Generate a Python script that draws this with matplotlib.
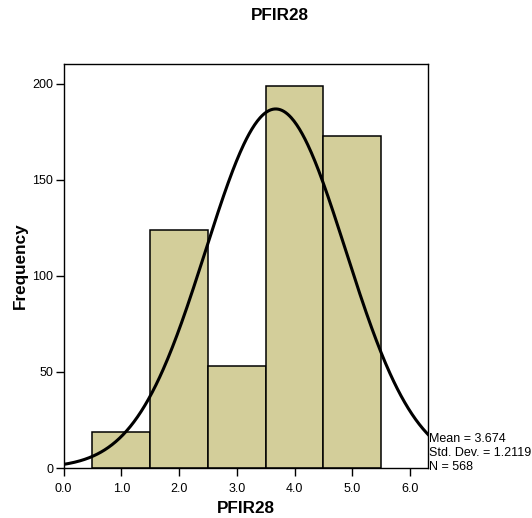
import numpy as np
import matplotlib
matplotlib.use("Agg")
import matplotlib.pyplot as plt

plt.rcParams['font.family'] = ['Liberation Sans', 'DejaVu Sans']

# Histogram bins (centres) and frequencies
bin_centers = [1.0, 2.0, 3.0, 4.0, 5.0]
frequencies = [19, 124, 53, 199, 173]
bin_width = 1.0

# Summary statistics
mean = 3.674
std_dev = 1.2119
n = 568

x_ticks = [0.0, 1.0, 2.0, 3.0, 4.0, 5.0, 6.0]
y_ticks = [0, 50, 100, 150, 200]

fig = plt.figure(figsize=(5.32, 5.18), dpi=100)
ax = fig.add_axes([0.1194, 0.0965, 0.686, 0.780])

ax.bar(bin_centers, frequencies, width=bin_width, color='#D3CE9A',
       edgecolor='black', linewidth=1.1, zorder=2)

# Fitted normal curve scaled to counts
xs = np.linspace(0.0, 6.32, 400)
curve = n * bin_width / (std_dev * np.sqrt(2 * np.pi)) * np.exp(-0.5 * ((xs - mean) / std_dev) ** 2)
ax.plot(xs, curve, color='black', linewidth=2.2, zorder=3)

ax.set_xlim(0.0, 6.32)
ax.set_ylim(0, 210.4)
ax.set_xticks(x_ticks)
ax.set_xticklabels([f"{t:.1f}" for t in x_ticks])
ax.set_yticks(y_ticks)
ax.set_yticklabels([str(t) for t in y_ticks])
ax.tick_params(axis='both', direction='out', length=6, width=1.0, labelsize=9)
ax.tick_params(axis='x', pad=5)
ax.tick_params(axis='y', pad=1.5)
for sp in ax.spines.values():
    sp.set_linewidth(1.0)

ax.set_xlabel('PFIR28', fontsize=12.3, fontweight='bold', labelpad=4)
ax.set_ylabel('Frequency', fontsize=12.3, fontweight='bold', labelpad=3)
fig.text(280 / 532, 1 - 16 / 518, 'PFIR28', ha='center', va='center',
         fontsize=12.3, fontweight='bold')

stats = f"Mean = {mean:.3f}\nStd. Dev. = {std_dev:.4f}\nN = {n}"
fig.text(429 / 532, 1 - 473 / 518, stats, ha='left', va='bottom',
         fontsize=9, linespacing=1.2)

fig.savefig('out.png', dpi=100)
